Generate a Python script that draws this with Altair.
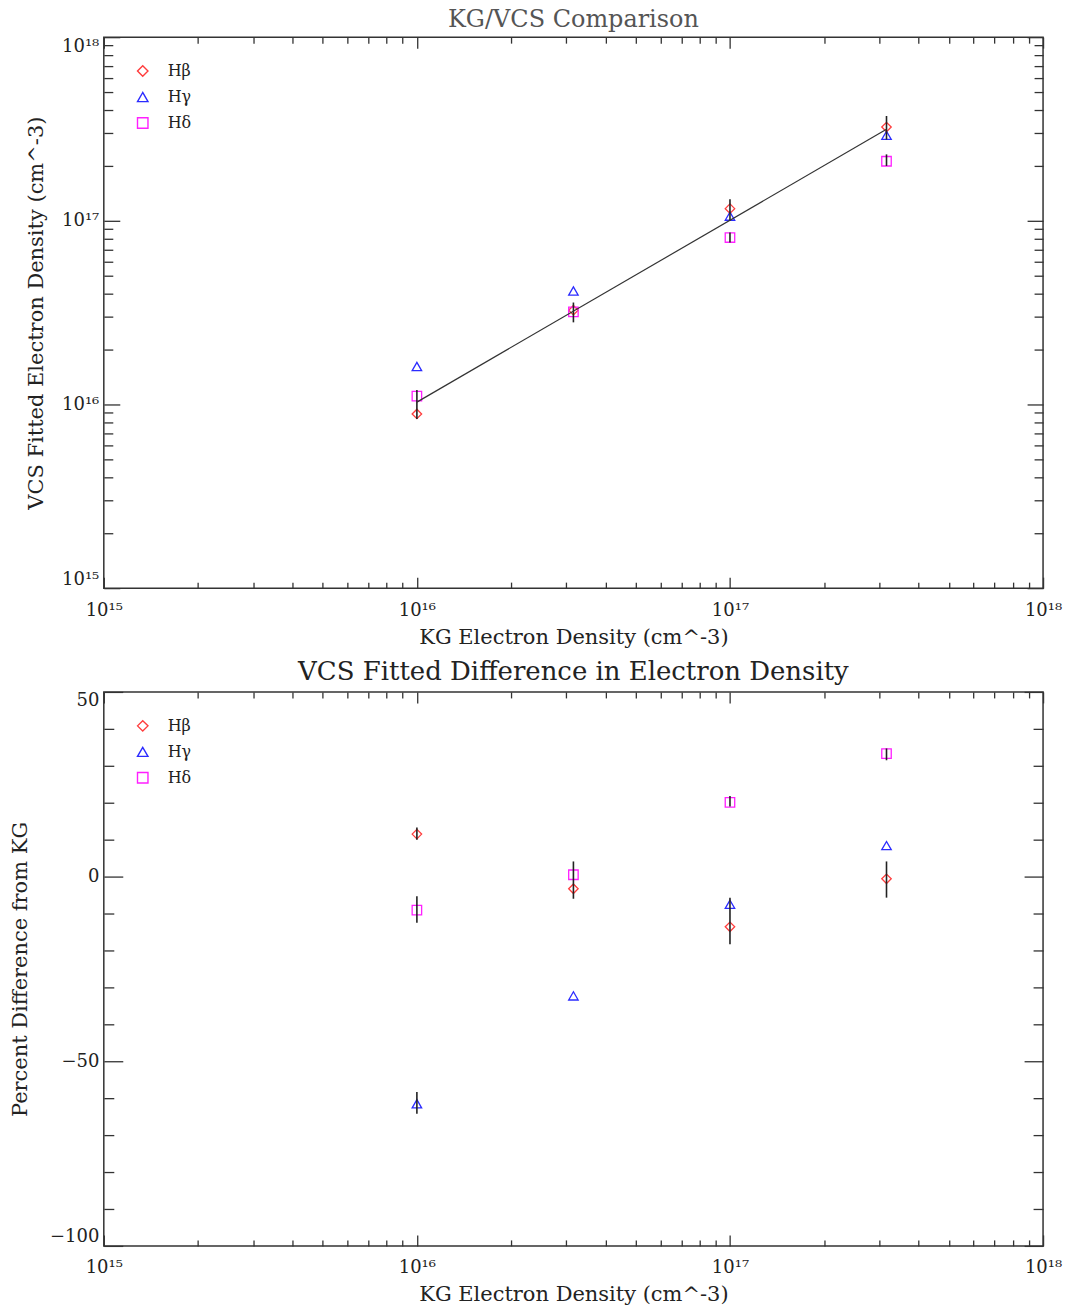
import altair as alt
import pandas as pd

# ---------------- data ----------------
series = ["Hβ", "Hγ", "Hδ"]
kg_density = [1e16, 3.162e16, 1e17, 3.162e17]

# VCS fitted electron density (top panel)
hb_vcs = [0.888e16, 3.26e16, 1.165e17, 3.24e17]
hg_vcs = [1.61e16, 4.15e16, 1.06e17, 2.92e17]
hd_vcs = [1.11e16, 3.19e16, 0.811e17, 2.11e17]

# error bars (top panel)
top_err_x = [1e16, 3.162e16, 1e17, 1e17, 3.162e17, 3.162e17]
top_err_lo = [0.834e16, 2.80e16, 1.0e17, 0.761e17, 2.77e17, 1.99e17]
top_err_hi = [1.20e16, 3.59e16, 1.31e17, 0.863e17, 3.72e17, 2.30e17]

# fitted line (top panel)
fit_x = [1e16, 3.162e17]
fit_y = [1.03e16, 3.15e17]

# percent difference from KG (bottom panel)
hb_diff = [11.5, -3.3, -13.6, -0.6]
hg_diff = [-61.5, -32.3, -7.5, 8.4]
hd_diff = [-9.1, 0.5, 20.1, 33.3]

# error bars (bottom panel)
diff_err_series = ["Hβ", "Hδ", "Hγ", "Hβ", "Hδ", "Hβ", "Hδ", "Hβ"]
diff_err_x = [1e16, 1e16, 1e16, 3.162e16, 1e17, 1e17, 3.162e17, 3.162e17]
diff_err_lo = [10.0, -12.5, -64.2, -6.0, 19.0, -18.3, 31.5, -5.7]
diff_err_hi = [13.3, -5.3, -58.3, 4.1, 21.8, -5.7, 34.7, 4.1]

# axis ticks
decades = [1e15, 1e16, 1e17, 1e18]
log_ticks = [1e15, 2e15, 3e15, 4e15, 5e15, 6e15, 7e15, 8e15, 9e15,
             1e16, 2e16, 3e16, 4e16, 5e16, 6e16, 7e16, 8e16, 9e16,
             1e17, 2e17, 3e17, 4e17, 5e17, 6e17, 7e17, 8e17, 9e17, 1e18]
diff_labels = [-100, -50, 0, 50]
diff_ticks = [-100, -90, -80, -70, -60, -50, -40, -30, -20, -10, 0, 10, 20, 30, 40, 50]

# ---------------- tables ----------------
top_pts = pd.DataFrame({
    "kg": kg_density * 3,
    "val": hb_vcs + hg_vcs + hd_vcs,
    "line": [series[0]] * 4 + [series[1]] * 4 + [series[2]] * 4,
})
top_err = pd.DataFrame({"kg": top_err_x, "lo": top_err_lo, "hi": top_err_hi})
fit = pd.DataFrame({"kg": fit_x, "val": fit_y})

bot_pts = pd.DataFrame({
    "kg": kg_density * 3,
    "val": hb_diff + hg_diff + hd_diff,
    "line": [series[0]] * 4 + [series[1]] * 4 + [series[2]] * 4,
})
bot_err = pd.DataFrame({"line": diff_err_series, "kg": diff_err_x,
                        "lo": diff_err_lo, "hi": diff_err_hi})

# ---------------- styling ----------------
FONT = "DejaVu Serif"
INK = "#222222"
W = 941
H_TOP = 552
H_BOT = 555

LOG_MAJOR = "abs(log(datum.value)/LN10 - round(log(datum.value)/LN10)) < 0.001"
LIN_MAJOR = "datum.value % 50 == 0"
POW_LABEL = ("'10' + (round(log(datum.value)/LN10) == 15 ? '¹⁵' : "
             "round(log(datum.value)/LN10) == 16 ? '¹⁶' : "
             "round(log(datum.value)/LN10) == 17 ? '¹⁷' : '¹⁸')")

x_scale = alt.Scale(type="log", domain=[1e15, 1e18], nice=False)
ylog_scale = alt.Scale(type="log", domain=[1e15, 1e18], nice=False)
ylin_scale = alt.Scale(domain=[-100, 50], nice=False, zero=False)

shape_scale = alt.Scale(domain=series, range=["diamond", "triangle-up", "square"])
color_scale = alt.Scale(domain=series, range=["#ff3c3c", "#2b2bff", "#ff1fff"])


def tick_size(test, major, minor):
    return {"condition": {"test": test, "value": major}, "value": minor}


def x_label_axis():
    return alt.Axis(orient="bottom", values=decades, labelExpr=POW_LABEL,
                    ticks=False, tickSize=0, domain=False, grid=False, labelFlush=False,
                    labelPadding=13, labelFont=FONT, labelFontSize=18, labelColor=INK,
                    title="KG Electron Density (cm^-3)", titleFont=FONT,
                    titleFontSize=21, titleFontWeight="normal", titleColor=INK,
                    titlePadding=7)


def tick_axis(orient, offset, values, test, major, minor):
    return alt.Axis(orient=orient, offset=offset, values=values, labels=False,
                    ticks=True, tickSize=tick_size(test, major, minor),
                    tickColor="#333333", tickWidth=1.3, domain=False, grid=False,
                    title=None)


def legend():
    return alt.Legend(orient="none", legendX=31, legendY=26, title=None, padding=0,
                      labelFont=FONT, labelFontSize=16, labelColor=INK, labelOffset=17,
                      symbolSize=110, symbolStrokeWidth=1.4, rowPadding=9)


# ---------------- top panel ----------------
top_points = alt.Chart(top_pts).mark_point(filled=False, size=90, strokeWidth=1.3, opacity=1).encode(
    x=alt.X("kg:Q", scale=x_scale, axis=x_label_axis()),
    y=alt.Y("val:Q", scale=ylog_scale,
            axis=alt.Axis(orient="left", values=decades, labelExpr=POW_LABEL,
                          ticks=False, tickSize=0, domain=False, grid=False,
                          labelPadding=5, labelFlush=True, labelFont=FONT,
                          labelFontSize=18, labelColor=INK,
                          title="VCS Fitted Electron Density (cm^-3)", titleFont=FONT,
                          titleFontSize=21, titleFontWeight="normal", titleColor=INK,
                          titlePadding=15)),
    shape=alt.Shape("line:N", scale=shape_scale, legend=legend()),
    color=alt.Color("line:N", scale=color_scale, legend=legend()),
)

top_bars = alt.Chart(top_err).mark_rule(color=INK, strokeWidth=1.6).encode(
    x=alt.X("kg:Q", scale=x_scale, axis=tick_axis("top", -H_TOP, log_ticks, LOG_MAJOR, 11, 6)),
    y=alt.Y("lo:Q", scale=ylog_scale, axis=tick_axis("right", -W, log_ticks, LOG_MAJOR, 16, 9)),
    y2="hi:Q",
)

top_fit = alt.Chart(fit).mark_line(color="#333333", strokeWidth=1.2).encode(
    x=alt.X("kg:Q", scale=x_scale, axis=tick_axis("bottom", -H_TOP, log_ticks, LOG_MAJOR, 11, 6)),
    y=alt.Y("val:Q", scale=ylog_scale, axis=tick_axis("left", -W, log_ticks, LOG_MAJOR, 16, 9)),
)

top = alt.layer(top_points, top_bars, top_fit).resolve_axis(
    x="independent", y="independent"
).properties(
    width=W, height=H_TOP,
    title=alt.TitleParams("KG/VCS Comparison", font=FONT, fontSize=24,
                          fontWeight="normal", color="#555555", anchor="middle", offset=5),
)

# ---------------- bottom panel ----------------
bot_points = alt.Chart(bot_pts).mark_point(filled=False, size=90, strokeWidth=1.3, opacity=1).encode(
    x=alt.X("kg:Q", scale=x_scale, axis=x_label_axis()),
    y=alt.Y("val:Q", scale=ylin_scale,
            axis=alt.Axis(orient="left", values=diff_labels, format="d",
                          ticks=False, tickSize=0, domain=False, grid=False,
                          labelPadding=5, labelFlush=True, labelFont=FONT,
                          labelFontSize=18, labelColor=INK,
                          title="Percent Difference from KG", titleFont=FONT,
                          titleFontSize=21, titleFontWeight="normal", titleColor=INK,
                          titlePadding=19)),
    shape=alt.Shape("line:N", scale=shape_scale, legend=legend()),
    color=alt.Color("line:N", scale=color_scale, legend=legend()),
)

bot_bars_hb = alt.Chart(bot_err).transform_filter(alt.datum.line == "Hβ").mark_rule(
    color=INK, strokeWidth=1.6).encode(
    x=alt.X("kg:Q", scale=x_scale, axis=tick_axis("top", -H_BOT, log_ticks, LOG_MAJOR, 11, 6)),
    y=alt.Y("lo:Q", scale=ylin_scale, axis=tick_axis("right", -W, diff_ticks, LIN_MAJOR, 19, 10)),
    y2="hi:Q",
)

bot_bars_other = alt.Chart(bot_err).transform_filter(alt.datum.line != "Hβ").mark_rule(
    color=INK, strokeWidth=1.6).encode(
    x=alt.X("kg:Q", scale=x_scale, axis=tick_axis("bottom", -H_BOT, log_ticks, LOG_MAJOR, 11, 6)),
    y=alt.Y("lo:Q", scale=ylin_scale, axis=tick_axis("left", -W, diff_ticks, LIN_MAJOR, 19, 10)),
    y2="hi:Q",
)

bottom = alt.layer(bot_points, bot_bars_hb, bot_bars_other).resolve_axis(
    x="independent", y="independent"
).properties(
    width=W, height=H_BOT,
    title=alt.TitleParams("VCS Fitted Difference in Electron Density", font=FONT,
                          fontSize=26, fontWeight="normal", color=INK,
                          anchor="middle", offset=6),
)

chart = alt.vconcat(top, bottom, spacing=10).resolve_scale(
    x="independent", y="independent", color="independent", shape="independent"
).properties(
    padding={"left": 8, "top": 5, "right": 10, "bottom": 5},
    background="white",
).configure_view(
    stroke="#333333", strokeWidth=1.5
)

chart.save("out.html", embed_options={"renderer": "svg", "actions": False})
